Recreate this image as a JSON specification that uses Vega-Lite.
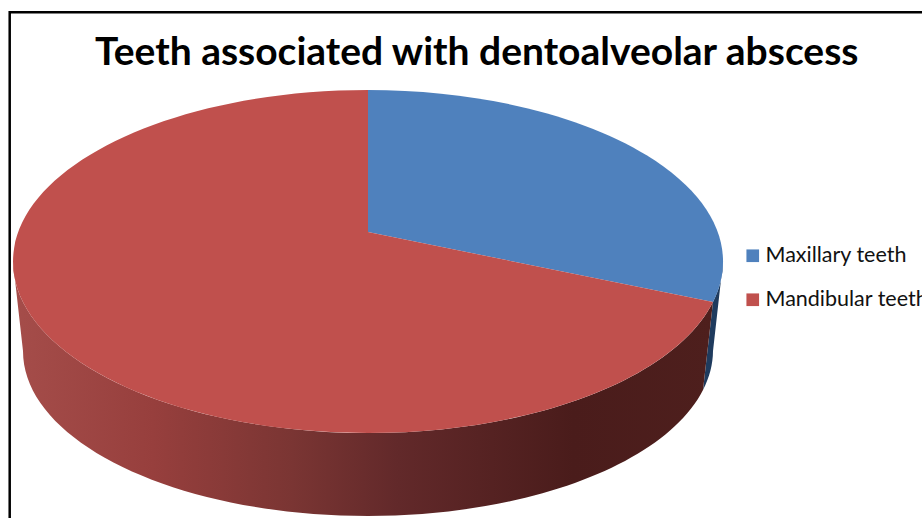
{"$schema":"https://vega.github.io/schema/vega-lite/v6.json","width":922,"height":518,"padding":0,"autosize":{"type":"none"},"background":"white","view":{"stroke":null},"title":{"text":"Teeth associated with dentoalveolar abscess","anchor":"start","frame":"group","orient":"top","offset":0,"dx":95,"dy":104,"baseline":"alphabetic","font":"Lato","fontWeight":"bold","fontSize":39,"color":"#000000"},"data":{"values":[{"slice":"Maxillary teeth","value":31},{"slice":"Mandibular teeth","value":69}]},"layer":[{"data":{"values":[{"element":"frame"}]},"mark":{"type":"point","shape":"M-451.3,262 L-451.3,-246.8 L465,-246.8","size":4,"filled":false,"stroke":"#000000","strokeWidth":2.5,"opacity":1}},{"transform":[{"filter":"datum.slice==='Maxillary teeth'"}],"mark":{"type":"point","shape":"M262,3 A355 171.5 0 0 1 252,43 L242,131 A345 165 0 0 0 252,92 Z","size":4,"filled":true,"fill":"#1f3b5e","stroke":null,"opacity":1}},{"transform":[{"filter":"datum.slice==='Mandibular teeth'"}],"mark":{"type":"point","shape":"M-448,3 L-438,92 A345 165 0 0 0 -93,257 A345 165 0 0 0 242,131 L252,43 A355 171.5 0 0 1 -448,3 Z","size":4,"filled":true,"stroke":null,"opacity":1,"fill":{"gradient":"linear","x1":0,"y1":0,"x2":1,"y2":0,"stops":[{"offset":0,"color":"#a54d4a"},{"offset":0.2,"color":"#973f3d"},{"offset":0.4,"color":"#7a3533"},{"offset":0.55,"color":"#62292a"},{"offset":0.8,"color":"#4a1c1b"},{"offset":1,"color":"#4e1f1d"}]}}},{"transform":[{"filter":"datum.slice==='Maxillary teeth'"}],"mark":{"type":"point","shape":"M-93,-27 L-93,-169 A355 171.5 0 0 1 252,43 Z","filled":true,"size":4,"opacity":1,"stroke":null},"encoding":{"tooltip":[{"field":"slice"},{"field":"value","type":"quantitative"}],"color":{"field":"slice","type":"nominal","scale":{"domain":["Maxillary teeth","Mandibular teeth"],"range":["#4f81bd","#c0504d"]},"legend":{"title":null,"orient":"none","legendX":742,"legendY":245,"symbolType":"square","symbolSize":160,"symbolStrokeWidth":0,"symbolOpacity":1,"labelFont":"Lato","labelFontSize":21.5,"labelColor":"#111111","labelOffset":2,"labelLimit":300,"rowPadding":21,"padding":0}}}},{"transform":[{"filter":"datum.slice==='Mandibular teeth'"}],"mark":{"type":"point","shape":"M-93,-27 L252,43 A355 171.5 0 1 1 -93,-169 Z","filled":true,"size":4,"opacity":1,"stroke":null},"encoding":{"tooltip":[{"field":"slice"},{"field":"value","type":"quantitative"}],"color":{"field":"slice","type":"nominal","scale":{"domain":["Maxillary teeth","Mandibular teeth"],"range":["#4f81bd","#c0504d"]},"legend":{"title":null,"orient":"none","legendX":742,"legendY":245,"symbolType":"square","symbolSize":160,"symbolStrokeWidth":0,"symbolOpacity":1,"labelFont":"Lato","labelFontSize":21.5,"labelColor":"#111111","labelOffset":2,"labelLimit":300,"rowPadding":21,"padding":0}}}}]}
